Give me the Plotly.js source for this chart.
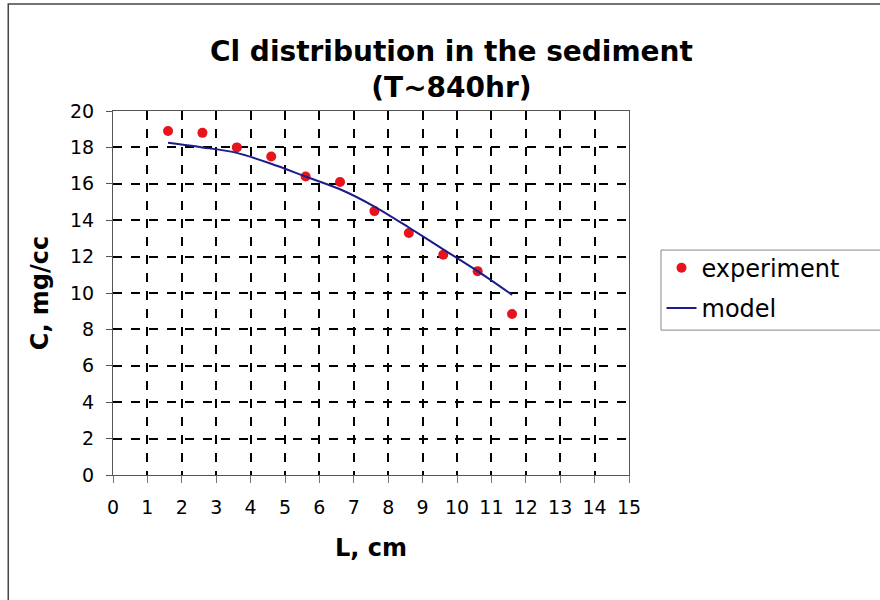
<!DOCTYPE html>
<html>
<head>
<meta charset="utf-8">
<script src="https://cdn.plot.ly/plotly-3.0.1.min.js"></script>
<style>html,body{margin:0;padding:0;background:#fff;}#chart{width:880px;height:600px;}</style>
</head>
<body>
<div id="chart"></div>
<script>
const expL = [1.6, 2.6, 3.6, 4.6, 5.6, 6.6, 7.6, 8.6, 9.6, 10.6, 11.6];
const expC = [18.9, 18.8, 18.0, 17.5, 16.4, 16.1, 14.5, 13.3, 12.1, 11.2, 8.85];
const modelL = [1.6, 2.6, 3.6, 4.6, 5.6, 6.6, 7.6, 8.6, 9.6, 10.6, 11.6];
const modelC = [18.25, 18.0, 17.7, 17.1, 16.4, 15.7, 14.75, 13.6, 12.4, 11.2, 9.9];
const xTicks = [0,1,2,3,4,5,6,7,8,9,10,11,12,13,14,15];
const yTicks = [0,2,4,6,8,10,12,14,16,18,20];

const font = "Verdana, 'DejaVu Sans', sans-serif";
const traces = [
  {x: expL, y: expC, mode: 'markers', name: 'experiment', type: 'scatter', legendgroup: 'a',
   marker: {color: '#e8141b', size: 10}},
  {x: modelL, y: modelC, mode: 'lines', name: 'model', type: 'scatter', legendgroup: 'b',
   line: {color: '#1c1c8a', width: 2, shape: 'spline', smoothing: 0.8}}
];
const layout = {
  width: 880, height: 600,
  margin: {l: 113, r: 251, t: 111, b: 125},
  paper_bgcolor: '#fff', plot_bgcolor: '#fff',
  font: {family: font, color: '#000', size: 19},
  title: {text: '<b>Cl distribution in the sediment<br>(T~840hr)</b>', x: 0.513, xanchor: 'center',
          y: 0.899, yanchor: 'middle', font: {size: 28, family: font}},
  xaxis: {range: [0, 15], tickvals: xTicks, ticktext: xTicks.map(String),
          showgrid: true, gridcolor: '#000', griddash: 'dash', gridwidth: 2,
          showline: true, linecolor: '#555', mirror: true, linewidth: 1,
          ticks: 'outside', ticklen: 7, tickcolor: '#777', zeroline: false,
          ticklabelstandoff: 8,
          title: {text: '<b>L, cm</b>', font: {size: 24}, standoff: 22}},
  yaxis: {range: [0, 20], tickvals: yTicks, ticktext: yTicks.map(String),
          showgrid: true, gridcolor: '#000', griddash: 'dash', gridwidth: 2,
          showline: true, linecolor: '#555', mirror: true, linewidth: 1,
          ticks: 'outside', ticklen: 6, tickcolor: '#555', zeroline: false,
          ticklabelstandoff: 8,
          title: {text: '<b>C, mg/cc</b>', font: {size: 24}, standoff: 14}},
  legend: {x: 1.063, xanchor: 'left', y: 0.63, yanchor: 'top',
           borderwidth: 0, bgcolor: 'rgba(0,0,0,0)',
           font: {size: 24}, traceorder: 'grouped', tracegroupgap: 6},
  showlegend: true,
  shapes: [
    {type: 'rect', xref: 'paper', yref: 'paper', x0: -0.203, x1: 1.6, y0: -0.4, y1: 1.294,
     line: {color: '#444', width: 1.5}, fillcolor: 'rgba(0,0,0,0)', layer: 'below'},
    {type: 'rect', xref: 'paper', yref: 'paper', x0: 1.062, x1: 1.6, y0: 0.398, y1: 0.618,
     line: {color: '#888', width: 1}, fillcolor: 'rgba(0,0,0,0)', layer: 'below'}
  ]
};
Plotly.newPlot('chart', traces, layout, {displayModeBar: false, staticPlot: true});
</script>
</body>
</html>
